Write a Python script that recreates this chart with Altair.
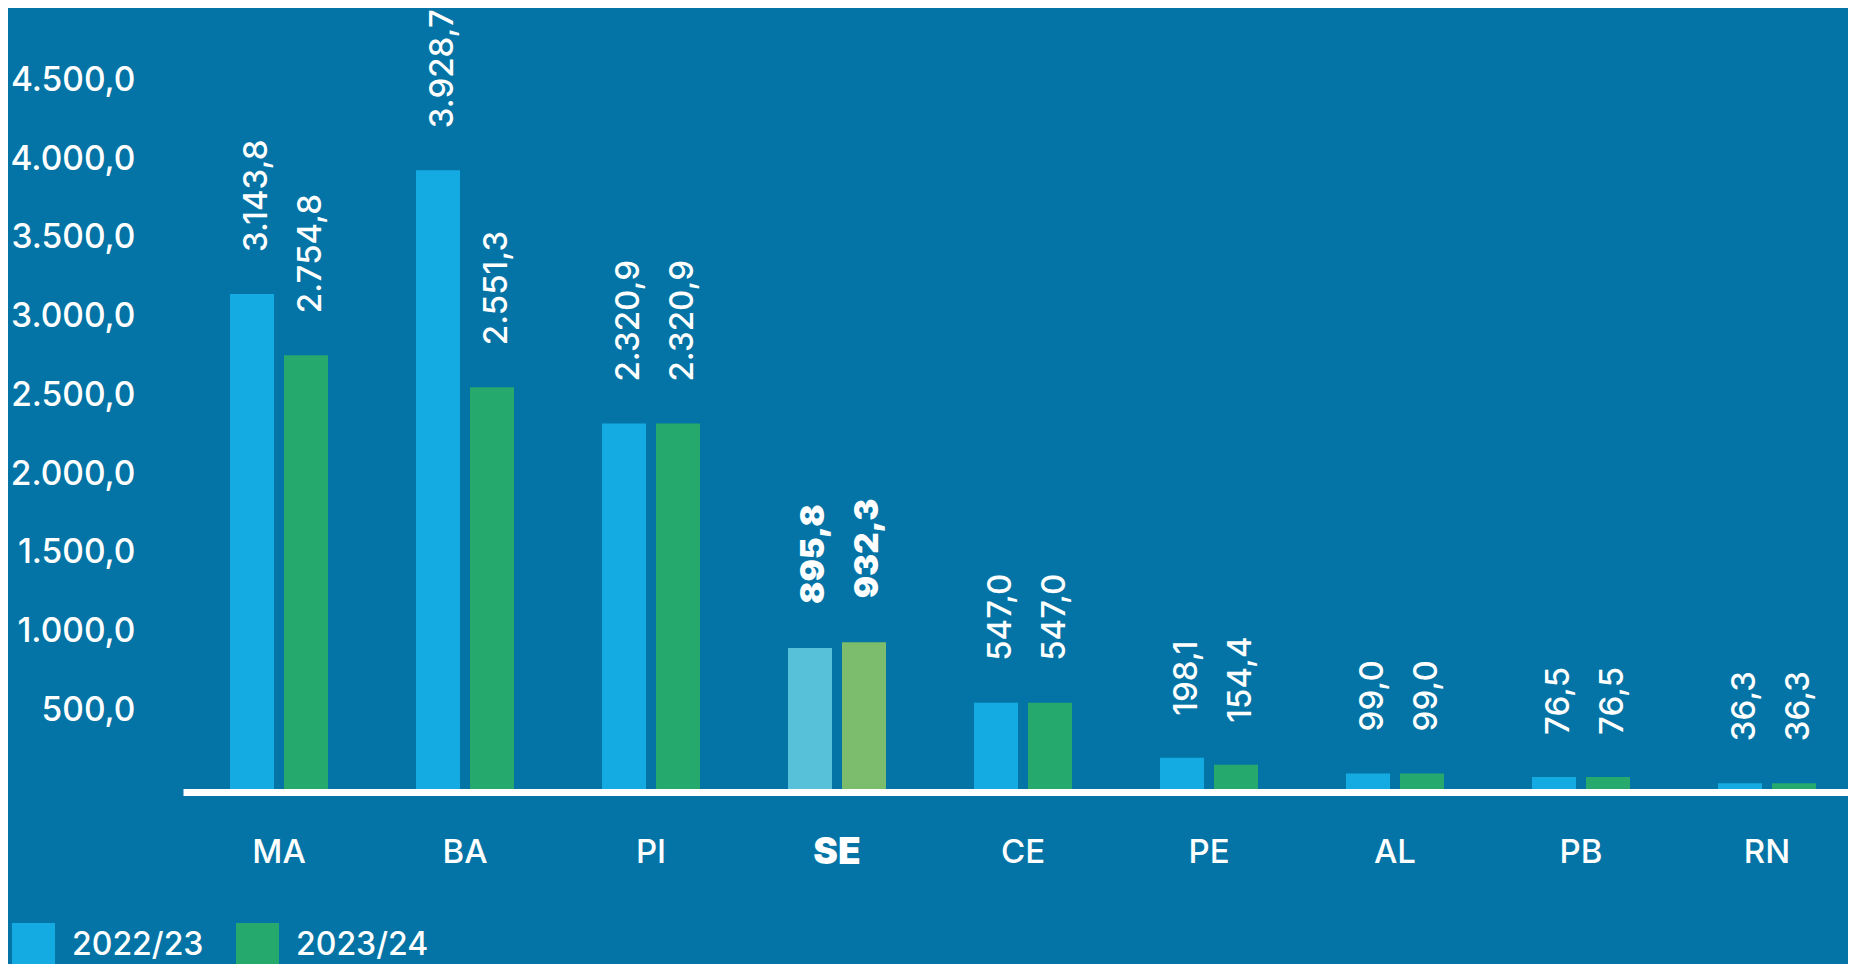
import altair as alt
import pandas as pd

states = ["MA", "BA", "PI", "SE", "CE", "PE", "AL", "PB", "RN"]
v2223 = [3143.8, 3928.7, 2320.9, 895.8, 547.0, 198.1, 99.0, 76.5, 36.3]
v2324 = [2754.8, 2551.3, 2320.9, 932.3, 547.0, 154.4, 99.0, 76.5, 36.3]
series = ["2022/23", "2023/24"]
y_ticks = [500, 1000, 1500, 2000, 2500, 3000, 3500, 4000, 4500]

BG = "#0374A5"
BLUE = "#14ABE3"
GREEN = "#25A96C"
SE_BLUE = "#57C1DA"
SE_GREEN = "#7BBD6D"
FONT = "Inter"


def br(v):
    s = f"{v:,.1f}"
    return s.replace(",", "#").replace(".", ",").replace("#", ".")


rows = []
for i, st in enumerate(states):
    for s, vals in zip(series, [v2223, v2324]):
        key = ("SE " + s) if st == "SE" else s
        rows.append({"state": st, "series": s, "value": vals[i], "key": key,
                     "label": br(vals[i]), "hl": st == "SE"})
df = pd.DataFrame(rows)

x_enc = alt.X("state:N", sort=states,
              scale=alt.Scale(paddingInner=0.4731, paddingOuter=0.2124, align=0.595),
              axis=alt.Axis(title=None, domain=True, domainColor="white", domainWidth=7,
                            offset=3, ticks=False, tickSize=0, labelAngle=0,
                            labelColor="white", labelFont=FONT,
                            labelFontSize={"condition": {"test": "datum.value === 'SE'", "value": 37}, "value": 33},
                            labelFontWeight={"condition": {"test": "datum.value === 'SE'", "value": 900}, "value": 500},
                            labelPadding=60, labelBaseline="middle"))
xo_enc = alt.XOffset("series:N", sort=series,
                     scale=alt.Scale(domain=series, paddingInner=0.185, paddingOuter=0))
y_enc = alt.Y("value:Q", scale=alt.Scale(domain=[0, 4959], nice=False, zero=True),
              axis=alt.Axis(title=None, values=y_ticks, domain=False, ticks=False, grid=False,
                            labelColor="white", labelFont=FONT, labelFontSize=33.5,
                            labelFontWeight=500, labelPadding=48,
                            labelExpr="replace(replace(replace(format(datum.value, ',.1f'), ',', '#'), '.', ','), '#', '.')"))

base = alt.Chart(df)

bars = base.mark_bar().encode(
    x=x_enc, xOffset=xo_enc, y=y_enc,
    color=alt.Color("key:N",
                    scale=alt.Scale(domain=["2022/23", "2023/24", "SE 2022/23", "SE 2023/24"],
                                    range=[BLUE, GREEN, SE_BLUE, SE_GREEN]),
                    legend=alt.Legend(values=series, title=None, orient="none",
                                      legendX=-171, legendY=915, direction="horizontal",
                                      symbolType="square", symbolSize=1849,
                                      symbolStrokeWidth=0, symbolOpacity=1,
                                      labelColor="white", labelFont=FONT, labelFontSize=32,
                                      labelFontWeight=500, labelOffset=17,
                                      columnPadding=32, padding=0)),
)

labels = base.transform_filter("!datum.hl").mark_text(
    angle=270, align="left", baseline="middle", dx=42, dy=5, color="white",
    font=FONT, fontSize=33, fontWeight=500,
).encode(x=alt.X("state:N", sort=states), xOffset=alt.XOffset("series:N", sort=series),
         y="value:Q", text="label:N")

labels_se = base.transform_filter("datum.hl").mark_text(
    angle=270, align="left", baseline="middle", dx=44, dy=4, color="white",
    font=FONT, fontSize=33, fontWeight=900,
).encode(x=alt.X("state:N", sort=states), xOffset=alt.XOffset("series:N", sort=series),
         y="value:Q", text="label:N")

chart = alt.layer(bars, labels, labels_se).properties(
    width=1665, height=781, background=BG,
    autosize=alt.AutoSizeParams(type="none"),
    padding={"left": 175, "top": 0, "right": 0, "bottom": 175},
).configure_view(stroke=None)

chart.save("out.html", embed_options={"renderer": "svg", "actions": False})
